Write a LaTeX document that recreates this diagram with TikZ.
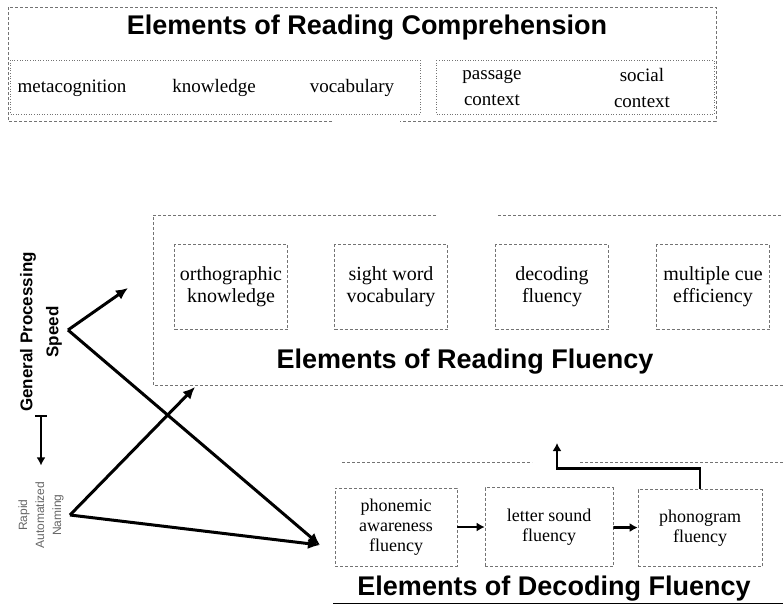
\documentclass[tikz,border=0pt]{standalone}
\usepackage{fontspec}
\setmainfont{Liberation Serif}
\setsansfont{Liberation Sans}
\usetikzlibrary{arrows.meta}

\begin{document}
\begin{tikzpicture}[x=1pt, y=-1pt,
        frame/.style={draw=black!55, densely dashed, line width=0.6pt},
        itembox/.style={frame, align=center, inner sep=0pt, font=\fontsize{20}{22}\selectfont},
        item/.style={align=center, inner sep=0pt, font=\fontsize{19}{26}\selectfont},
        heading/.style={inner sep=0pt, font=\sffamily\bfseries\fontsize{27}{30}\selectfont},
        bigarrow/.style={line width=3pt, -{Latex[length=12pt,width=11pt]}},
        smallarrow/.style={line width=2.8pt, -{Latex[length=8pt,width=9pt]}}]
        \useasboundingbox (0,0) rectangle (783,605);
        % Reading comprehension
        \draw[frame] (332,121) -- (8,121) -- (8,7) -- (716,7) -- (716,121) -- (400,121);
        \node[heading] (compTitle) at (367,28) {Elements of Reading Comprehension};
        \draw[frame, dotted] (10,60) rectangle (420,114);
        \draw[frame, dotted] (436,60) rectangle (714,114);
        \node[item] (meta) at (72,88) {metacognition};
        \node[item] (know) at (214,88) {knowledge};
        \node[item] (vocab) at (352,88) {vocabulary};
        \node[item] (passage) at (492,88) {passage\\context};
        \node[item] (social) at (642,88) {social\\context};
        % Reading fluency
        \draw[frame] (436,215) -- (153,215) -- (153,385) -- (783,385);
        \draw[frame] (498,215) -- (783,215);
        \node[itembox, minimum width=113pt, minimum height=85pt] (ortho) at (231,287) {orthographic\\knowledge};
        \node[itembox, minimum width=113pt, minimum height=85pt] (sight) at (391,287) {sight word\\vocabulary};
        \node[itembox, minimum width=113pt, minimum height=85pt] (decod) at (552,287) {decoding\\fluency};
        \node[itembox, minimum width=113pt, minimum height=85pt] (multi) at (713,287) {multiple cue\\efficiency};
        \node[heading] (rfTitle) at (465,362) {Elements of Reading Fluency};
        % Decoding fluency
        \draw[frame] (342,462) -- (532,462);
        \draw[frame] (580,462) -- (783,462);
        \draw[line width=0.8pt] (333,603) -- (783,603);
        \node[itembox, font=\fontsize{18}{20}\selectfont, minimum width=122pt, minimum height=78pt] (phon) at (396,527) {phonemic\\awareness\\fluency};
        \node[itembox, font=\fontsize{18}{20}\selectfont, minimum width=128pt, minimum height=79pt] (letter) at (549,527) {letter sound\\fluency};
        \node[itembox, font=\fontsize{18}{20}\selectfont, minimum width=124pt, minimum height=77pt] (phono) at (700,528) {phonogram\\fluency};
        \node[heading] (decTitle) at (554,589) {Elements of Decoding Fluency};
        \draw[smallarrow] (phon) -- (letter);
        \draw[smallarrow] (letter) -- (phono);
        \coordinate (decOut) at (557,443);
        \draw[smallarrow] (phono.north) -- ++(0,-21) -| (decOut);
        % Speed and naming
        \node[rotate=90, align=center, inner sep=0pt, font=\sffamily\bfseries\fontsize{17}{26}\selectfont] (gps) at (41,332) {General Processing\\Speed};
        \node[rotate=90, align=center, inner sep=0pt, text=black!60, font=\sffamily\fontsize{12}{17}\selectfont] (ran) at (41,515) {Rapid\\Automatized\\Naming};
        \draw[line width=2.4pt, {Bar[width=12pt]}-{Latex[length=8pt,width=9pt]}, shorten <=3pt, shorten >=16pt] (gps.west) -- (ran.east);
        \coordinate (gpsV) at (68,330);
        \coordinate (ranV) at (70,515);
        \coordinate (gpsTip) at (128,288);
        \coordinate (rfIn) at (195,387);
        \coordinate (phonIn) at (320,545);
        \draw[bigarrow] (gpsV) -- (gpsTip);
        \draw[bigarrow] (gpsV) -- (phonIn);
        \draw[bigarrow] (ranV) -- (rfIn);
        \draw[bigarrow] (ranV) -- (phonIn);
\end{tikzpicture}
\end{document}
